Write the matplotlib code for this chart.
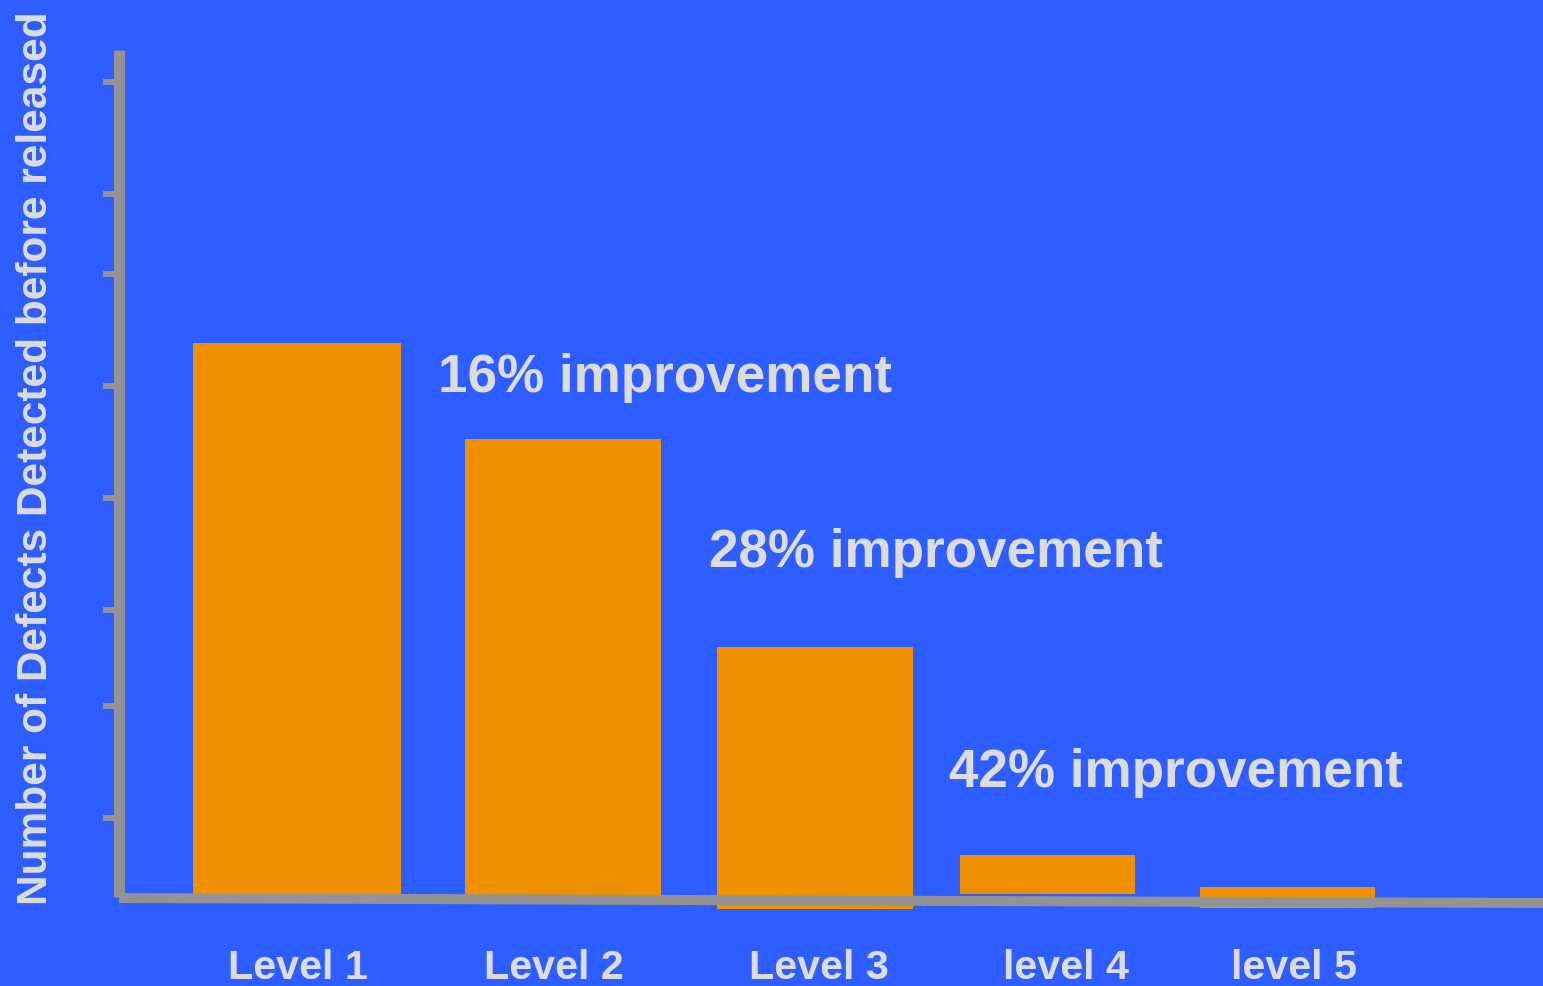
import numpy as np
import matplotlib
matplotlib.use("Agg")
import matplotlib.pyplot as plt

plt.rcParams['font.family'] = ['Liberation Sans', 'DejaVu Sans']

# data
levels = ["Level 1", "Level 2", "Level 3", "level 4", "level 5"]
defects = [555, 459, 251, 43, 11]
y_ticks = [816, 704, 624, 512, 400, 288, 192, 80]
notes = ["16% improvement", "28% improvement", "42% improvement"]

# layout (axis units are pixels above the baseline)
bar_left = [193, 465, 717, 960, 1200]
bar_width = [208, 196, 196, 175, 175]
bar_base = [0, 0, -11, 4, -10]
label_x = [298, 554, 819, 1066, 1294]
note_xy = [(438, 898 - 392), (709, 898 - 567), (949, 898 - 787)]

BG = "#2E5EFF"
ORANGE = "#EF9000"
GREY = "#939393"
TEXT = "#DCDCDC"

fig = plt.figure(figsize=(15.43, 9.86), dpi=100, facecolor=BG)
ax = fig.add_axes([0, 0, 1, 1])
ax.set_facecolor(BG)
ax.set_xlim(0, 1543)
ax.set_ylim(-88, 898)
ax.axis("off")

heights = np.array(defects) - np.array(bar_base)
ax.bar(bar_left, heights, width=bar_width, bottom=bar_base, align="edge",
       color=ORANGE, zorder=2)

# hand-drawn looking axes, x axis sags a little to the right
ax.plot([119, 119], [1, 848], color=GREY, lw=11 * 0.72, solid_capstyle="butt", zorder=3)
ax.plot([119, 1543], [0, -5], color=GREY, lw=10 * 0.72, solid_capstyle="butt", zorder=3)
ax.hlines(y_ticks, 103, 114, color=GREY, lw=6 * 0.72, zorder=3)

for name, x in zip(levels, label_x):
    ax.text(x, 898 - 979, name, ha="center", va="baseline", fontsize=29.7,
            fontweight="bold", color=TEXT)

for note, (x, y) in zip(notes, note_xy):
    ax.text(x, y, note, ha="left", va="baseline", fontsize=38.2,
            fontweight="bold", color=TEXT)

ax.text(47, 898 - 458, "Number of Defects Detected before released", rotation=90,
        rotation_mode="anchor", ha="center", va="baseline", fontsize=30.5,
        fontweight="bold", color=TEXT)

fig.savefig("out.png", dpi=100, facecolor=BG)
